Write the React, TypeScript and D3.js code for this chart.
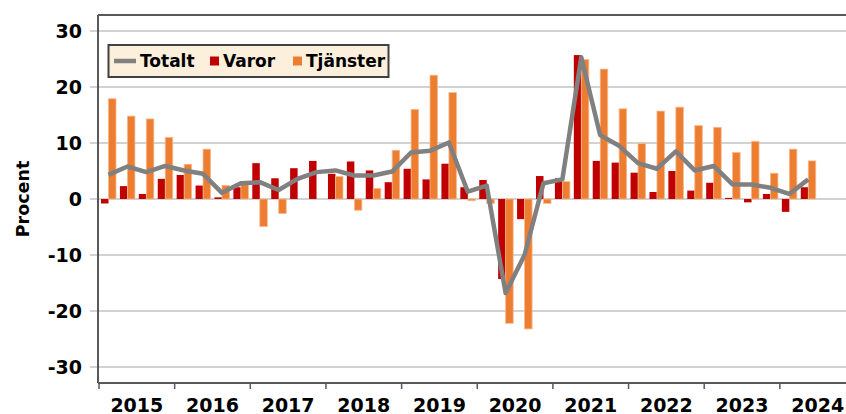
import React from 'react'
import * as d3 from 'd3'

const years = ['2015', '2016', '2017', '2018', '2019', '2020', '2021', '2022', '2023', '2024']

// kvartal 2015K1 - 2024K2
const varor = [
  -0.8, 2.3, 0.9, 3.6,
  4.3, 2.4, 0.3, 2.1,
  6.4, 3.7, 5.5, 6.8,
  4.5, 6.7, 5.1, 3.0,
  5.4, 3.5, 6.3, 2.1,
  3.4, -14.3, -3.6, 4.1,
  3.7, 25.7, 6.8, 6.5,
  4.7, 1.25, 5.0, 1.5,
  2.9, 0.2, -0.6, 0.9,
  -2.3, 2.1,
]
const tjanster = [
  17.9, 14.8, 14.3, 11.0,
  6.2, 8.9, 2.4, 2.9,
  -4.9, -2.6, 0, 0,
  4.0, -2.0, 1.9, 8.7,
  16.0, 22.1, 19.0, -0.3,
  -0.8, -22.2, -23.2, -0.8,
  3.1, 24.9, 23.2, 16.1,
  9.9, 15.7, 16.4, 13.1,
  12.8, 8.3, 10.3, 4.6,
  8.9, 6.8,
]
const totalt = [
  4.3, 5.8, 4.8, 5.9,
  5.1, 4.5, 1.1, 2.8,
  3.0, 1.6, 3.6, 4.8,
  5.1, 4.2, 4.2, 4.9,
  8.3, 8.6, 10.1, 1.3,
  2.4, -16.8, -10.0, 2.8,
  3.5, 25.3, 11.4, 9.5,
  6.4, 5.4, 8.5, 5.1,
  5.9, 2.6, 2.6, 2.0,
  0.9, 3.5,
]
const yTicks = [-30, -20, -10, 0, 10, 20, 30]

const W = 846
const H = 414
const left = 98
const top = 15
const bottom = 383
const font = "'DejaVu Sans', Verdana, sans-serif"

export default function App() {
  const x = d3.scaleLinear().domain([0, 40]).range([99, 855.5])
  const y = d3.scaleLinear().domain([-30, 30]).range([367, 31])
  const qw = x(1) - x(0)
  const bw = 7.5
  const line = d3
    .line<number>()
    .x((d, i) => x(i) + qw / 2)
    .y(d => y(d))

  return (
    <svg width={W} height={H} style={{ position: 'absolute', left: 0, top: 0, background: '#fff' }}>
      {yTicks.map(t => (
        <line key={t} x1={90} x2={W} y1={y(t)} y2={y(t)} stroke="#a6a6a6" strokeWidth={1.2} />
      ))}
      {yTicks.map(t => (
        <text key={'l' + t} x={82} y={y(t)} dy="0.36em" textAnchor="end" fontFamily={font} fontWeight="bold" fontSize={19}>
          {t}
        </text>
      ))}
      <text
        transform={`translate(29,${y(0)}) rotate(-90)`}
        textAnchor="middle"
        fontFamily={font}
        fontWeight="bold"
        fontSize={17.5}
      >
        Procent
      </text>

      {varor.map((v, i) => (
        <rect
          key={'v' + i}
          x={x(i) + 2}
          width={bw}
          y={y(Math.max(0, v))}
          height={Math.abs(y(v) - y(0))}
          fill="#c00000"
        />
      ))}
      {tjanster.map((v, i) => (
        <rect
          key={'t' + i}
          x={x(i) + 2 + bw}
          width={bw}
          y={y(Math.max(0, v))}
          height={Math.abs(y(v) - y(0))}
          fill="#ed7d31"
          stroke="#f7b78c"
          strokeWidth={0.8}
        />
      ))}
      <path d={line(totalt) || ''} fill="none" stroke="#808080" strokeWidth={4.5} strokeLinejoin="round" />

      <line x1={left} x2={W} y1={top} y2={top} stroke="#595959" strokeWidth={2} />
      <line x1={left} x2={left} y1={top} y2={bottom} stroke="#595959" strokeWidth={2} />
      <line x1={left} x2={W} y1={bottom} y2={bottom} stroke="#595959" strokeWidth={2} />
      {years.map((yr, i) => (
        <g key={yr}>
          <line x1={x(i * 4)} x2={x(i * 4)} y1={bottom} y2={bottom + 6} stroke="#595959" strokeWidth={1.5} />
          <text x={x(i * 4 + 2)} y={411.5} textAnchor="middle" fontFamily={font} fontWeight="bold" fontSize={19}>
            {yr}
          </text>
        </g>
      ))}

      <g fontFamily={font} fontWeight="bold" fontSize={17}>
        <rect x={108.5} y={45} width={280} height={32} fill="#fcefdc" stroke="#404040" strokeWidth={2} />
        <line x1={114} x2={136} y1={61} y2={61} stroke="#808080" strokeWidth={4.5} />
        <text x={140} y={61} dy="0.36em">Totalt</text>
        <rect x={210} y={56.5} width={9} height={9} fill="#c00000" />
        <text x={223} y={61} dy="0.36em">Varor</text>
        <rect x={293} y={56.5} width={9} height={9} fill="#ed7d31" />
        <text x={306} y={61} dy="0.36em">Tjänster</text>
      </g>
    </svg>
  )
}
